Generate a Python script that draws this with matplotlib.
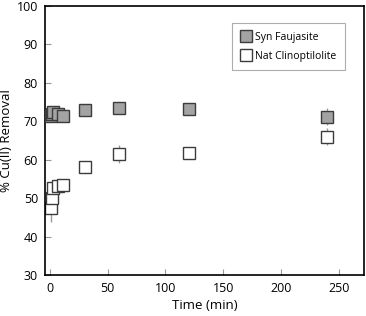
import matplotlib

matplotlib.use("Agg")
import matplotlib.pyplot as plt  # noqa: E402

# time (min) and % Cu(II) removal
time_min = [1, 2, 3, 7, 11, 30, 60, 120, 240]
faujasite = [71.3, 71.8, 72.3, 72.0, 71.4, 72.9, 73.4, 73.1, 71.2]
faujasite_err = [1.5, 1.0, 0.8, 0.8, 0.8, 0.6, 0.6, 0.6, 2.2]
clinopt = [47.3, 50.0, 52.5, 53.2, 53.5, 58.1, 61.5, 61.8, 66.0]
clinopt_err = [3.4, 1.0, 1.0, 0.8, 0.8, 1.0, 2.4, 1.0, 2.2]

plt.rcParams["font.family"] = ["Open Sans", "DejaVu Sans"]

fig = plt.figure(figsize=(3.66, 3.16), dpi=100)
ax = fig.add_axes([0.123, 0.130, 0.872, 0.851])

ax.errorbar(time_min, faujasite, yerr=faujasite_err, fmt="none",
            ecolor="#9a9a9a", elinewidth=1, capsize=0, zorder=1)
ax.errorbar(time_min, clinopt, yerr=clinopt_err, fmt="none",
            ecolor="#9a9a9a", elinewidth=1, capsize=0, zorder=1)
ax.plot(time_min, faujasite, "s", ms=8, mfc="#a3a3a3", mec="#3c3c3c",
        mew=1, label="Syn Faujasite", zorder=3)
ax.plot(time_min, clinopt, "s", ms=8, mfc="white", mec="#3c3c3c",
        mew=1, label="Nat Clinoptilolite", zorder=2)

ax.set_xlim(-4.3, 272)
ax.set_ylim(30, 100)
ax.set_xticks([0, 50, 100, 150, 200, 250])
ax.set_yticks(range(30, 101, 10))
ax.tick_params(direction="in", length=4, color="#999999", labelsize=9,
               pad=5)
for s in ax.spines.values():
    s.set_linewidth(1.2)
ax.set_xlabel("Time (min)", fontsize=9.5, labelpad=3)
ax.set_ylabel("% Cu(II) Removal", fontsize=9.5, labelpad=3)

leg = ax.legend(loc="upper right", bbox_to_anchor=(0.955, 0.955),
                fontsize=7.5, fancybox=False, edgecolor="#999999",
                handletextpad=0.4, handlelength=1.0, borderpad=0.8,
                labelspacing=0.8)
leg.get_frame().set_linewidth(0.8)

fig.savefig("out.png", dpi=100)
